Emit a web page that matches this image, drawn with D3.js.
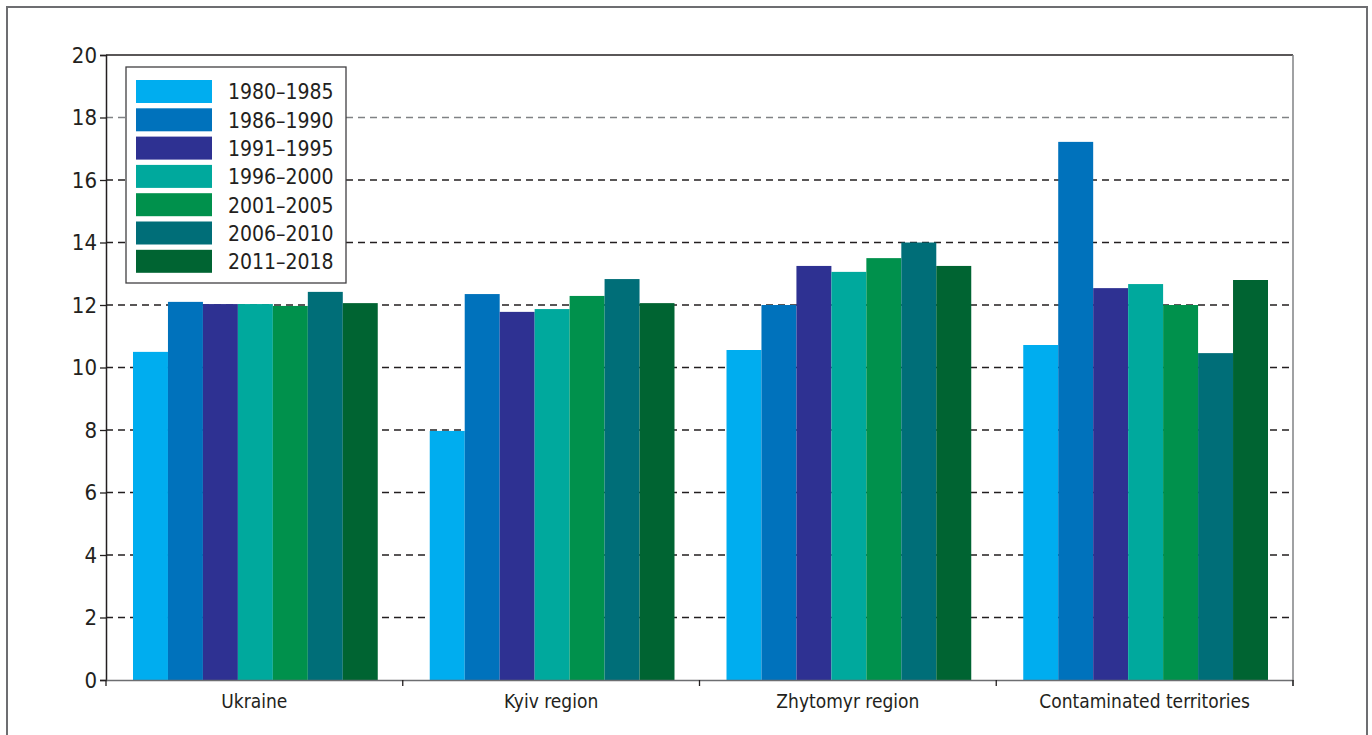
<!DOCTYPE html>
<html>
<head>
<meta charset="utf-8">
<script src="https://cdn.jsdelivr.net/npm/d3@7"></script>
<style>
    body { margin: 0; background: #fff; }
    svg text { fill: #231f20; }
</style>
</head>
<body>
<div id="chart"></div>
<script>
// data
const regions = ['Ukraine', 'Kyiv region', 'Zhytomyr region', 'Contaminated territories'];
const periods = ['1980\u20131985', '1986\u20131990', '1991\u20131995', '1996\u20132000', '2001\u20132005', '2006\u20132010', '2011\u20132018'];
const valUkraine = [10.5, 12.1, 12.03, 12.03, 11.97, 12.42, 12.06];
const valKyiv = [7.97, 12.35, 11.78, 11.87, 12.29, 12.83, 12.06];
const valZhytomyr = [10.56, 12.0, 13.25, 13.06, 13.5, 14.0, 13.25];
const valContaminated = [10.72, 17.22, 12.54, 12.67, 12.0, 10.46, 12.8];
const yTicks = [0, 2, 4, 6, 8, 10, 12, 14, 16, 18, 20];
const colors = ['#00adef', '#0072bc', '#2e3192', '#00a99d', '#00914c', '#006e78', '#006432'];

const allValues = [valUkraine, valKyiv, valZhytomyr, valContaminated];

const width = 1372, height = 735;
const margin = { top: 55, right: 79, bottom: 55, left: 106 };
const narrow = '"DejaVu Sans Condensed", "Liberation Sans Narrow", sans-serif';

const svg = d3.select('#chart').append('svg')
    .attr('width', width)
    .attr('height', height);

// outer frame
svg.append('rect')
    .attr('x', 7).attr('y', 7)
    .attr('width', 1360).attr('height', 740)
    .attr('fill', 'none')
    .attr('stroke', '#6d6e71')
    .attr('stroke-width', 2);

const x0 = d3.scaleBand()
    .domain(regions)
    .range([margin.left, width - margin.right])
    .paddingInner(0)
    .paddingOuter(0);

const x1 = d3.scaleBand()
    .domain(periods)
    .range([27, x0.bandwidth() - 25]);

const y = d3.scaleLinear()
    .domain([0, 20])
    .range([height - margin.bottom, margin.top]);

const g = svg.append('g');

// gridlines
g.selectAll('line.grid')
    .data(yTicks.filter(d => d > 0 && d < 20))
    .enter().append('line')
    .attr('class', 'grid')
    .attr('x1', margin.left)
    .attr('x2', width - margin.right)
    .attr('y1', d => y(d))
    .attr('y2', d => y(d))
    .attr('stroke', d => d == 18 ? '#808285' : '#231f20')
    .attr('stroke-width', 1.4)
    .attr('stroke-dasharray', '7,5');

// bars
const groups = g.selectAll('g.region')
    .data(regions)
    .enter().append('g')
    .attr('class', 'region')
    .attr('transform', d => 'translate(' + x0(d) + ',0)');

groups.selectAll('rect')
    .data((d, i) => allValues[i].map((v, j) => ({ period: periods[j], value: v, color: colors[j] })))
    .enter().append('rect')
    .attr('x', d => x1(d.period))
    .attr('y', d => y(d.value))
    .attr('width', x1.bandwidth())
    .attr('height', d => y(0) - y(d.value))
    .attr('fill', d => d.color);

// plot frame: top and right
g.append('line')
    .attr('x1', margin.left).attr('x2', width - margin.right)
    .attr('y1', y(20)).attr('y2', y(20))
    .attr('stroke', '#231f20').attr('stroke-width', 1.5);
g.append('line')
    .attr('x1', width - margin.right).attr('x2', width - margin.right)
    .attr('y1', y(20)).attr('y2', y(0) + 6)
    .attr('stroke', '#808285').attr('stroke-width', 1.5);

// y axis
const yAxis = g.append('g')
    .attr('transform', 'translate(' + margin.left + ',0)')
    .call(d3.axisLeft(y).tickValues(yTicks).tickSize(6).tickPadding(3));
yAxis.select('.domain').attr('stroke', '#231f20').attr('stroke-width', 1.5);
yAxis.selectAll('.tick line').attr('stroke', '#231f20').attr('stroke-width', 1.3);
yAxis.selectAll('.tick text')
    .style('font-family', narrow)
    .style('font-size', '22px')
    .attr('fill', '#231f20');

// x axis
const xAxis = g.append('g')
    .attr('transform', 'translate(0,' + y(0) + ')')
    .call(d3.axisBottom(x0).tickSize(0).tickPadding(15));
xAxis.select('.domain').attr('stroke', '#6d6e71').attr('stroke-width', 1.5);
xAxis.selectAll('.tick text')
    .style('font-family', narrow)
    .style('font-size', '19px')
    .attr('fill', '#231f20');

// category boundary ticks
const bounds = regions.map(r => x0(r)).concat([x0(regions[regions.length - 1]) + x0.bandwidth()]);
g.selectAll('line.btick')
    .data(bounds)
    .enter().append('line')
    .attr('class', 'btick')
    .attr('x1', d => d).attr('x2', d => d)
    .attr('y1', y(0)).attr('y2', y(0) + 6)
    .attr('stroke', '#231f20').attr('stroke-width', 1.3);

// legend
const legend = svg.append('g').attr('transform', 'translate(126,67)');
legend.append('rect')
    .attr('width', 220).attr('height', 216)
    .attr('fill', '#fff')
    .attr('stroke', '#414042')
    .attr('stroke-width', 1.3);

const items = legend.selectAll('g.item')
    .data(periods)
    .enter().append('g')
    .attr('class', 'item')
    .attr('transform', (d, i) => 'translate(10,' + (13 + i * 28.3) + ')');

items.append('rect')
    .attr('width', 76).attr('height', 23)
    .attr('fill', (d, i) => colors[i]);

items.append('text')
    .attr('x', 92)
    .attr('y', 12)
    .attr('dy', '0.35em')
    .style('font-family', narrow)
    .style('font-size', '21px')
    .text(d => d);
</script>
</body>
</html>
